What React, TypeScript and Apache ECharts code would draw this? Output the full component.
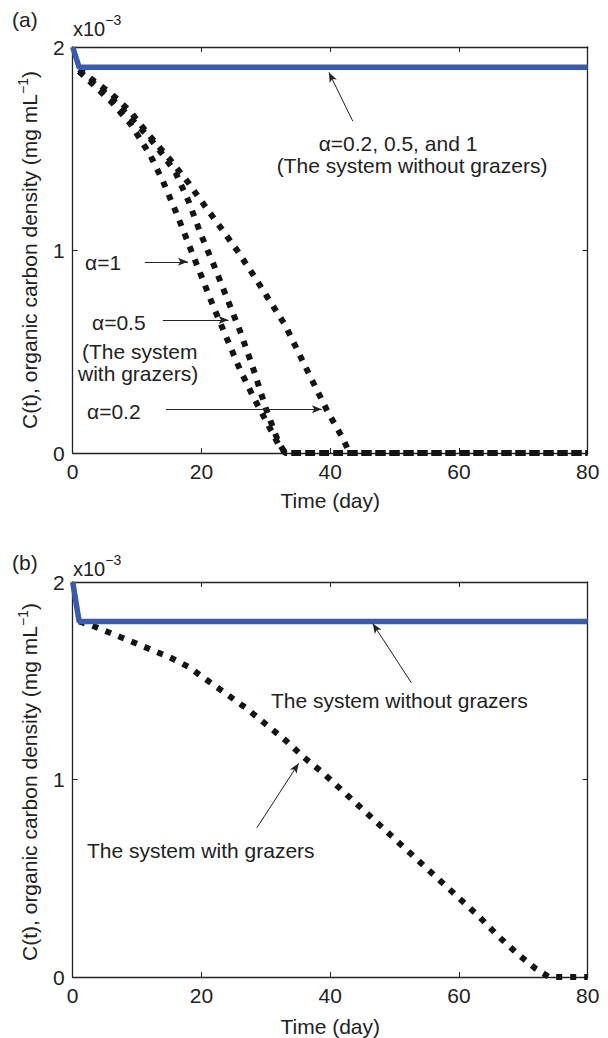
import React, { useEffect, useRef } from "react";
import * as echarts from "echarts";

// ---------- data (values in units of 10^-3 mg/mL) ----------
const xTicks = [0, 20, 40, 60, 80];
const yTicks = [0, 1, 2];

// Panel (a)
const blueADays = [0, 1, 80];
const blueAValues = [2.0, 1.9, 1.9];

const alpha1Days = [1, 3, 6, 9, 12, 14, 16, 18, 20, 22, 24, 26, 28, 30, 32, 33, 80];
const alpha1Values = [1.88, 1.82, 1.73, 1.62, 1.47, 1.34, 1.19, 1.03, 0.87, 0.71, 0.56, 0.41, 0.28, 0.16, 0.04, 0, 0];

const alpha05Days = [1, 3, 6, 9, 12, 14, 16, 18, 20, 22, 24, 26, 28, 30, 32, 33, 80];
const alpha05Values = [1.88, 1.83, 1.75, 1.65, 1.55, 1.47, 1.38, 1.24, 1.07, 0.92, 0.76, 0.6, 0.42, 0.22, 0.05, 0, 0];

const alpha02Days = [1, 3, 6, 9, 12, 15, 18, 20, 23, 25.5, 28, 30, 33, 35, 37, 39.5, 42, 43, 80];
const alpha02Values = [1.89, 1.84, 1.77, 1.68, 1.56, 1.45, 1.33, 1.24, 1.11, 1.0, 0.88, 0.78, 0.63, 0.5, 0.37, 0.21, 0.07, 0, 0];

// Panel (b)
const blueBDays = [0, 1, 80];
const blueBValues = [2.0, 1.8, 1.8];

const grazersBDays = [1, 3, 6, 9, 12, 15, 18, 21, 24, 27, 30, 33, 36, 39, 42, 45, 48, 51, 54, 57, 60, 63, 66, 69, 72, 74, 80];
const grazersBValues = [1.8, 1.78, 1.74, 1.7, 1.66, 1.62, 1.57, 1.5, 1.43, 1.36, 1.28, 1.2, 1.11, 1.03, 0.94, 0.85, 0.76, 0.67, 0.58, 0.49, 0.4, 0.31, 0.21, 0.12, 0.04, 0, 0];

// annotation arrows (data coordinates: [day, value])
const arrowsA = [
  { from: [43.5, 1.635], to: [39.8, 1.875] },
  { from: [11.2, 0.942], to: [17.9, 0.942] },
  { from: [14.0, 0.655], to: [24.2, 0.655] },
  { from: [14.5, 0.215], to: [38.7, 0.215] },
];
const arrowsB = [
  { from: [52.6, 1.49], to: [46.6, 1.79] },
  { from: [28.6, 0.755], to: [35.1, 1.082] },
];

const zip = (xs: number[], ys: number[]) => xs.map((x, i) => [x, ys[i]]);

const FONT = "'Liberation Sans', Arial, Helvetica, sans-serif";
const INK = "#222";
const BLUE = "#3a5aae";
const DOT = "#141414";

function axes(gridIndex: number, nameGap: number) {
  const common = {
    type: "value" as const,
    gridIndex,
    splitLine: { show: false },
    axisLine: { show: true, onZero: false, lineStyle: { color: INK, width: 1.3 } },
    axisTick: { show: true, inside: true, length: 5, lineStyle: { color: INK, width: 1 } },
  };
  const x = {
    ...common,
    min: xTicks[0],
    max: xTicks[xTicks.length - 1],
    interval: xTicks[1] - xTicks[0],
  };
  const y = {
    ...common,
    min: yTicks[0],
    max: yTicks[yTicks.length - 1],
    interval: yTicks[1] - yTicks[0],
  };
  return {
    xAxis: [
      {
        ...x,
        position: "bottom",
        axisLabel: { fontSize: 21, color: INK, margin: 8, fontFamily: FONT },
        name: "Time (day)",
        nameLocation: "middle",
        nameGap,
        nameTextStyle: { fontSize: 21, color: INK, fontFamily: FONT },
      },
      { ...x, position: "top", axisLabel: { show: false } },
    ],
    yAxis: [
      {
        ...y,
        position: "left",
        axisLabel: { fontSize: 21, color: INK, margin: 8, fontFamily: FONT },
      },
      { ...y, position: "right", axisLabel: { show: false } },
    ],
  };
}

function arrowMarkLine(arrows: { from: number[]; to: number[] }[]) {
  return {
    silent: true,
    symbol: ["none", "arrow"],
    symbolSize: [6, 10],
    label: { show: false },
    lineStyle: { color: INK, width: 1, type: "solid" },
    emphasis: { disabled: true },
    data: arrows.map((a) => [{ coord: a.from }, { coord: a.to }]),
  };
}

function dotted(name: string, data: number[][], xi: number, yi: number) {
  return {
    name,
    type: "line",
    xAxisIndex: xi,
    yAxisIndex: yi,
    data,
    symbol: "none",
    silent: true,
    clip: false,
    lineStyle: { color: DOT, width: 6, type: [6, 8], cap: "butt" },
    z: 3,
  };
}

function text(t: string, x: number, y: number, align = "left", size = 21) {
  return {
    type: "text",
    x,
    y,
    silent: true,
    style: {
      text: t,
      fill: INK,
      fontSize: size,
      fontFamily: FONT,
      align,
      verticalAlign: "middle",
    },
  };
}

function yTitle(cx: number, cy: number) {
  return {
    type: "text",
    x: cx,
    y: cy,
    rotation: Math.PI / 2,
    silent: true,
    style: {
      text: "{a|C(t), organic carbon density (mg mL}{s|−1}{a|)}",
      align: "center",
      verticalAlign: "middle",
      fill: INK,
      fontFamily: FONT,
      fontSize: 21,
      rich: {
        a: { fontSize: 21, fontFamily: FONT, fill: INK, lineHeight: 26, verticalAlign: "middle" },
        s: { fontSize: 14, fontFamily: FONT, fill: INK, lineHeight: 14, verticalAlign: "top" },
      },
    },
  };
}

function scaleLabel(x: number, y: number) {
  return {
    type: "text",
    x,
    y,
    silent: true,
    style: {
      text: "{a|x10}{s|−3}",
      align: "left",
      verticalAlign: "middle",
      fill: INK,
      fontFamily: FONT,
      fontSize: 20,
      rich: {
        a: { fontSize: 20, fontFamily: FONT, fill: INK, lineHeight: 26, verticalAlign: "bottom" },
        s: { fontSize: 14, fontFamily: FONT, fill: INK, lineHeight: 16, verticalAlign: "top" },
      },
    },
  };
}

export default function App() {
  const ref = useRef<HTMLDivElement>(null);
  useEffect(() => {
    if (!ref.current) return;
    const chart = echarts.init(ref.current, undefined, { renderer: "svg" });
    const a = axes(0, 37);
    const b = axes(1, 39);
    const option: any = {
      animation: false,
      backgroundColor: "#ffffff",
      grid: [
        { left: 72.7, top: 47, width: 515, height: 406 },
        { left: 72.7, top: 582, width: 515, height: 400 },
      ],
      xAxis: [...a.xAxis, ...b.xAxis],
      yAxis: [...a.yAxis, ...b.yAxis],
      series: [
        dotted("α=1", zip(alpha1Days, alpha1Values), 0, 0),
        dotted("α=0.5", zip(alpha05Days, alpha05Values), 0, 0),
        dotted("α=0.2", zip(alpha02Days, alpha02Values), 0, 0),
        {
          name: "without grazers (a)",
          type: "line",
          xAxisIndex: 0,
          yAxisIndex: 0,
          data: zip(blueADays, blueAValues),
          symbol: "none",
          silent: true,
          clip: false,
          lineStyle: { color: BLUE, width: 5.5 },
          z: 4,
          markLine: arrowMarkLine(arrowsA),
        },
        dotted("with grazers (b)", zip(grazersBDays, grazersBValues), 2, 2),
        {
          name: "without grazers (b)",
          type: "line",
          xAxisIndex: 2,
          yAxisIndex: 2,
          data: zip(blueBDays, blueBValues),
          symbol: "none",
          silent: true,
          clip: false,
          lineStyle: { color: BLUE, width: 5.5 },
          z: 4,
          markLine: arrowMarkLine(arrowsB),
        },
      ],
      graphic: [
        text("(a)", 12, 19),
        scaleLabel(73, 26),
        yTitle(29, 250),
        text("α=0.2, 0.5, and 1", 398, 143, "center"),
        text("(The system without grazers)", 412, 165, "center"),
        text("α=1", 85, 262),
        text("α=0.5", 92, 322),
        text("(The system", 82, 351),
        text("with grazers)", 78, 373),
        text("α=0.2", 87, 411),

        text("(b)", 12, 562),
        scaleLabel(73, 566),
        yTitle(29, 782),
        text("The system without grazers", 271, 700),
        text("The system with grazers", 87, 850),
      ],
    };
    chart.setOption(option);
    return () => chart.dispose();
  }, []);
  return (
    <div
      ref={ref}
      style={{ position: "absolute", left: 0, top: 0, width: 608, height: 1038, background: "#fff" }}
    />
  );
}
